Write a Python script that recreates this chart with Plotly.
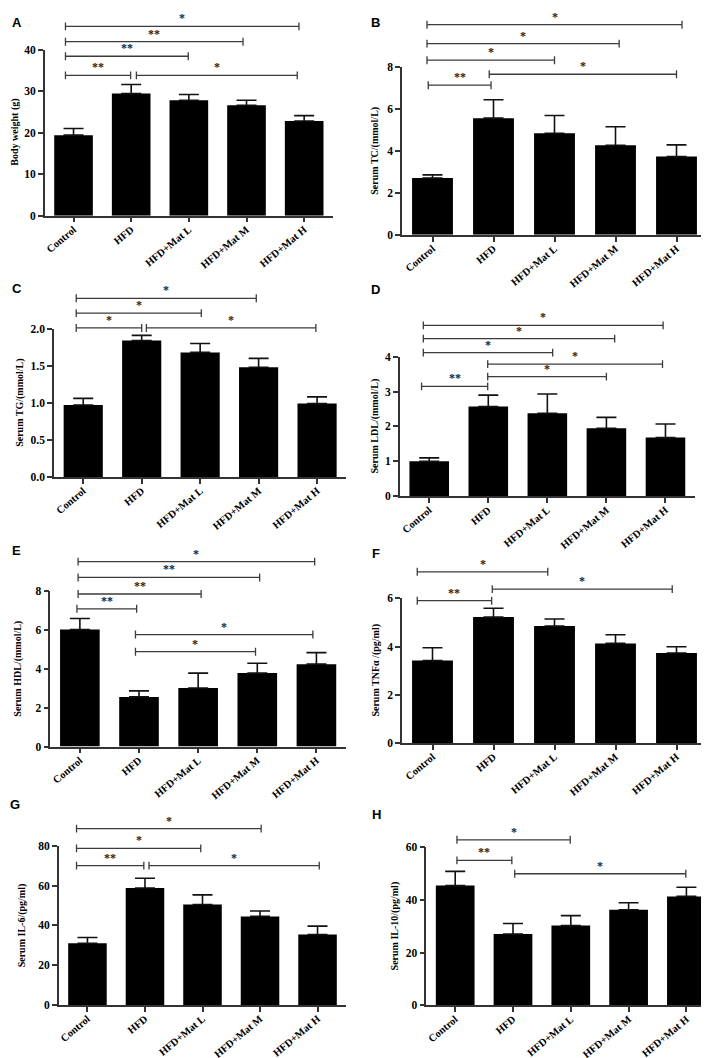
import plotly.graph_objects as go

categories = ["Control", "HFD", "HFD+Mat L", "HFD+Mat M", "HFD+Mat H"]

# Panel A - Body weight
a_mean = [19.4, 29.4, 27.8, 26.6, 22.8]
a_err = [1.6, 2.2, 1.4, 1.2, 1.3]
a_brackets = [(-0.14, 3.91, 45.6, "*"), (-0.14, 2.94, 41.9, "**"), (-0.14, 1.99, 38.4, "**"),
              (-0.14, 0.99, 33.8, "**"), (1.09, 3.88, 33.8, "*")]
# Panel B - TC
b_mean = [2.70, 5.55, 4.83, 4.26, 3.72]
b_err = [0.15, 0.88, 0.85, 0.88, 0.56]
b_brackets = [(-0.09, 4.09, 10.0, "*"), (-0.09, 3.06, 9.10, "*"), (-0.09, 2.0, 8.31, "*"),
              (0.93, 4.0, 7.64, "*"), (-0.07, 0.96, 7.12, "**")]
# Panel C - TG
c_mean = [0.97, 1.84, 1.68, 1.48, 0.99]
c_err = [0.09, 0.07, 0.12, 0.12, 0.09]
c_brackets = [(-0.12, 2.96, 2.41, "*"), (-0.12, 2.02, 2.21, "*"), (-0.12, 1.0, 2.01, "*"),
              (1.08, 3.98, 2.01, "*")]
# Panel D - LDL
d_mean = [1.00, 2.57, 2.38, 1.95, 1.68]
d_err = [0.10, 0.33, 0.55, 0.31, 0.39]
d_brackets = [(-0.10, 3.96, 4.90, "*"), (-0.10, 3.14, 4.52, "*"), (-0.10, 2.09, 4.12, "*"),
              (0.99, 3.95, 3.79, "*"), (0.99, 3.0, 3.43, "*"), (-0.13, 0.99, 3.15, "**")]
# Panel E - HDL
e_mean = [6.01, 2.55, 3.01, 3.77, 4.23]
e_err = [0.56, 0.31, 0.76, 0.51, 0.59]
e_brackets = [(-0.03, 3.97, 9.49, "*"), (-0.03, 3.04, 8.68, "**"), (-0.03, 2.05, 7.83, "**"),
              (-0.05, 0.96, 7.07, "**"), (0.94, 3.94, 5.75, "*"), (0.94, 2.97, 4.87, "*")]
# Panel F - TNFa
f_mean = [3.42, 5.22, 4.85, 4.13, 3.73]
f_err = [0.53, 0.37, 0.29, 0.36, 0.26]
f_brackets = [(-0.25, 1.89, 7.10, "*"), (0.98, 3.93, 6.38, "*"), (-0.25, 0.97, 5.90, "**")]
# Panel G - IL-6
g_mean = [31.0, 58.8, 50.5, 44.5, 35.4]
g_err = [2.9, 4.9, 4.8, 2.7, 4.2]
g_brackets = [(-0.19, 3.02, 88.6, "*"), (-0.19, 1.97, 78.7, "*"), (-0.19, 0.98, 70.0, "**"),
              (1.07, 4.03, 70.0, "*")]
# Panel H - IL-10
h_mean = [45.5, 27.1, 30.3, 36.3, 41.4]
h_err = [5.4, 4.0, 3.8, 2.7, 3.5]
h_brackets = [(0.03, 1.99, 62.9, "*"), (0.03, 0.98, 55.1, "**"), (1.03, 3.99, 50.0, "*")]

letters = ["A", "B", "C", "D", "E", "F", "G", "H"]
y_titles = ["Body weight (g)", "Serum TC/(mmol/L)", "Serum TG/(mmol/L)", "Serum LDL/(mmol/L)",
            "Serum HDL/(mmol/L)", "Serum TNFα /(pg/ml)", "Serum IL-6/(pg/ml)", "Serum IL-10/(pg/ml)"]
y_max = [40, 8, 2.0, 4, 8, 6, 80, 60]
y_step = [10, 2, 0.5, 1, 2, 2, 20, 20]
means = [a_mean, b_mean, c_mean, d_mean, e_mean, f_mean, g_mean, h_mean]
errs = [a_err, b_err, c_err, d_err, e_err, f_err, g_err, h_err]
brackets = [a_brackets, b_brackets, c_brackets, d_brackets, e_brackets, f_brackets, g_brackets, h_brackets]

# layout geometry in pixels: (axis left, axis right, top tick y, zero y)
W, H = 709, 1058
geom = [(36.7, 325, 36, 204), (394, 699, 53.3, 223.3), (46, 338.3, 318.3, 468.3), (391.7, 687, 346.7, 487.7),
        (42.3, 338, 583.3, 741), (394, 699, 591, 737.3), (50.7, 338.3, 841.3, 1002.3), (418.3, 707.3, 843, 1002.7)]
title_x = [7, 367, 12, 367, 10, 368, 14, 387]
letter_pos = [(9, 8.5), (367, 8.7), (9, 278), (367, 279), (8, 543), (368, 545.5), (7, 800), (368, 809.5)]
XR = (-0.5, 4.5)

SERIF = "Liberation Serif, Times New Roman, serif"
AXC = "#333333"
BRC = "#3c3c3c"

fig = go.Figure()
shapes = []
annotations = []
layout_axes = {}

for i in range(8):
    n = i + 1
    xa = "x" if n == 1 else f"x{n}"
    ya = "y" if n == 1 else f"y{n}"
    xl, xr, yt, yb = geom[i]
    ymx = y_max[i]
    fig.add_trace(go.Bar(
        x=categories, y=means[i], width=0.67,
        marker=dict(color="black", line=dict(width=0)),
        error_y=dict(type="data", symmetric=False, array=errs[i], arrayminus=[0] * 5,
                     color="#111111", thickness=1.6, width=10),
        xaxis=xa, yaxis=ya, showlegend=False, hoverinfo="skip"))
    nt = int(round(ymx / y_step[i]))
    tv = [k * y_step[i] for k in range(nt + 1)]
    layout_axes["xaxis" if n == 1 else f"xaxis{n}"] = dict(
        domain=[xl / W, xr / W], anchor=ya, range=list(XR), type="category",
        showline=True, linecolor=AXC, linewidth=1.5, ticks="outside", ticklen=5,
        tickcolor=AXC, tickwidth=1.5, tickangle=-40, showgrid=False, zeroline=False,
        ticklabelstandoff=-3,
        tickfont=dict(family=SERIF, size=10.5, color="black", weight="bold"))
    layout_axes["yaxis" if n == 1 else f"yaxis{n}"] = dict(
        domain=[1 - yb / H, 1 - yt / H], anchor=xa, range=[0, ymx],
        tickvals=tv, tickformat=".1f" if y_step[i] < 1 else "d",
        showline=True, linecolor=AXC, linewidth=1.5, ticks="outside", ticklen=5,
        tickcolor=AXC, tickwidth=1.5, showgrid=False, zeroline=False,
        tickfont=dict(family=SERIF, size=11.5, color="black", weight="bold"))

    def px(xv):
        return xl + (xv - XR[0]) / (XR[1] - XR[0]) * (xr - xl)

    def py(v):
        return yb - v / ymx * (yb - yt)

    for (b0, b1, lev, lab) in brackets[i]:
        X0, X1, Y = px(b0) / W, px(b1) / W, 1 - py(lev) / H
        t = 4 / H
        shapes.append(dict(type="path", xref="paper", yref="paper",
                           path=f"M {X0},{Y - t} L {X0},{Y + t} M {X0},{Y} L {X1},{Y} M {X1},{Y - t} L {X1},{Y + t}",
                           line=dict(color=BRC, width=1.3)))
        annotations.append(dict(x=(X0 + X1) / 2, y=Y, xref="paper", yref="paper", text=f"<b>{lab}</b>",
                                showarrow=False, xanchor="center", yanchor="bottom", yshift=-1,
                                font=dict(family=SERIF, size=12, color="#222222")))
    # y title
    annotations.append(dict(x=title_x[i] / W, y=1 - (yt + yb) / 2 / H, xref="paper", yref="paper",
                            text=f"<b>{y_titles[i]}</b>", textangle=-90, showarrow=False,
                            xanchor="center", yanchor="middle",
                            font=dict(family=SERIF, size=10, color="black")))
    lx, ly = letter_pos[i]
    annotations.append(dict(x=lx / W, y=1 - ly / H, xref="paper", yref="paper",
                            text=f"<b>{letters[i]}</b>", showarrow=False, xanchor="center", yanchor="middle",
                            font=dict(family="Liberation Sans, Arial, sans-serif", size=13, color="black")))

fig.update_layout(**layout_axes)
fig.update_layout(width=W, height=H, margin=dict(l=0, r=0, t=0, b=0), autosize=False,
                  plot_bgcolor="white", paper_bgcolor="white", bargap=0.33,
                  shapes=shapes, annotations=annotations, showlegend=False)

fig.write_html("out.html")
